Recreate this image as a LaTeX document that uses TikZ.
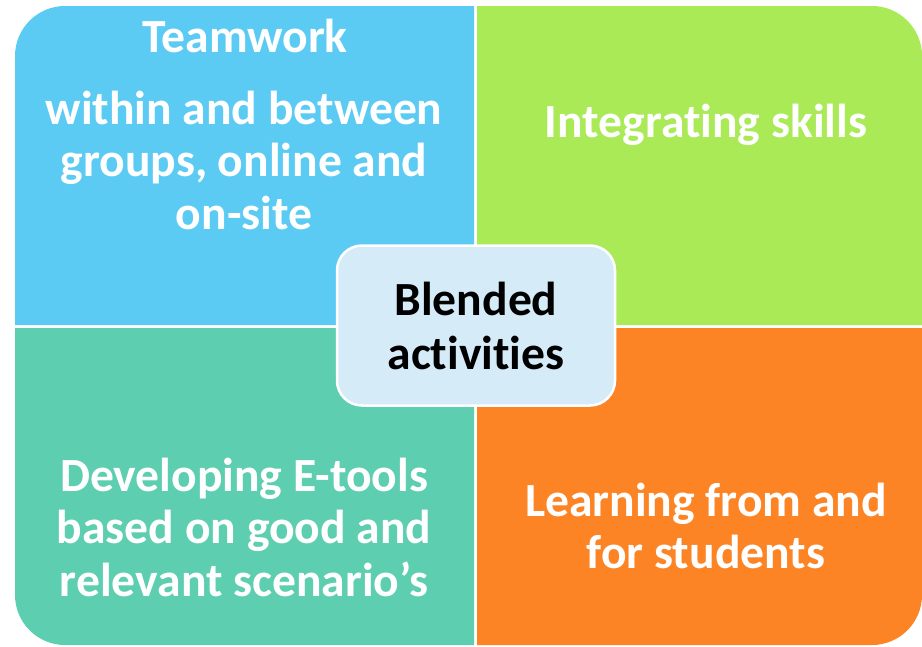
\documentclass[tikz,border=0pt]{standalone}
\usepackage{fontspec}
\setmainfont{Carlito}[Ligatures=NoCommon]
\definecolor{qblue}{HTML}{5BCBF4}
\definecolor{qgreen}{HTML}{A9EA56}
\definecolor{qteal}{HTML}{5ECEB0}
\definecolor{qorange}{HTML}{FC8424}
\definecolor{cfill}{HTML}{D5EBF8}
\tikzset{
  qtext/.style={text=white,font=\fontsize{47.6}{52.5}\selectfont\bfseries,align=center,inner sep=0pt},
  ctext/.style={text=black,font=\fontsize{47.6}{54}\selectfont\bfseries,align=center},
}
\begin{document}
\begin{tikzpicture}[x=1pt,y=-1pt]
\useasboundingbox (0,0) rectangle (922,646);
% quadrants
\fill[qblue] (474,325) -- (15,325) [rounded corners=50pt] -- (15,6) [sharp corners] -- (474,6) -- cycle;
\fill[qgreen] (477,325) -- (477,6) [rounded corners=50pt] -- (922,6) [sharp corners] -- (922,325) -- cycle;
\fill[qteal] (474,328) -- (15,328) [rounded corners=50pt] -- (15,645) [sharp corners] -- (474,645) -- cycle;
\fill[qorange] (477,328) -- (477,645) [rounded corners=50pt] -- (922,645) [sharp corners] -- (922,328) -- cycle;
% texts
\node[qtext] (tw) at (245,36) {Teamwork};
\node[qtext] (tw2) at (244,160) {within and between\\groups, online and\\on-site};
\node[qtext] (is) at (706,125) {Integrating skills};
\node[qtext] (de) at (244,527) {Developing E-tools\\based on good and\\relevant scenario’s};
\node[qtext] (lf) at (706,526) {Learning from and\\for students};
% center
\node[draw=white,line width=2.5pt,fill=cfill,rounded corners=25pt,minimum width=278pt,minimum height=160pt,ctext] (c) at (476,325.5) {Blended\\activities};
\end{tikzpicture}
\end{document}
